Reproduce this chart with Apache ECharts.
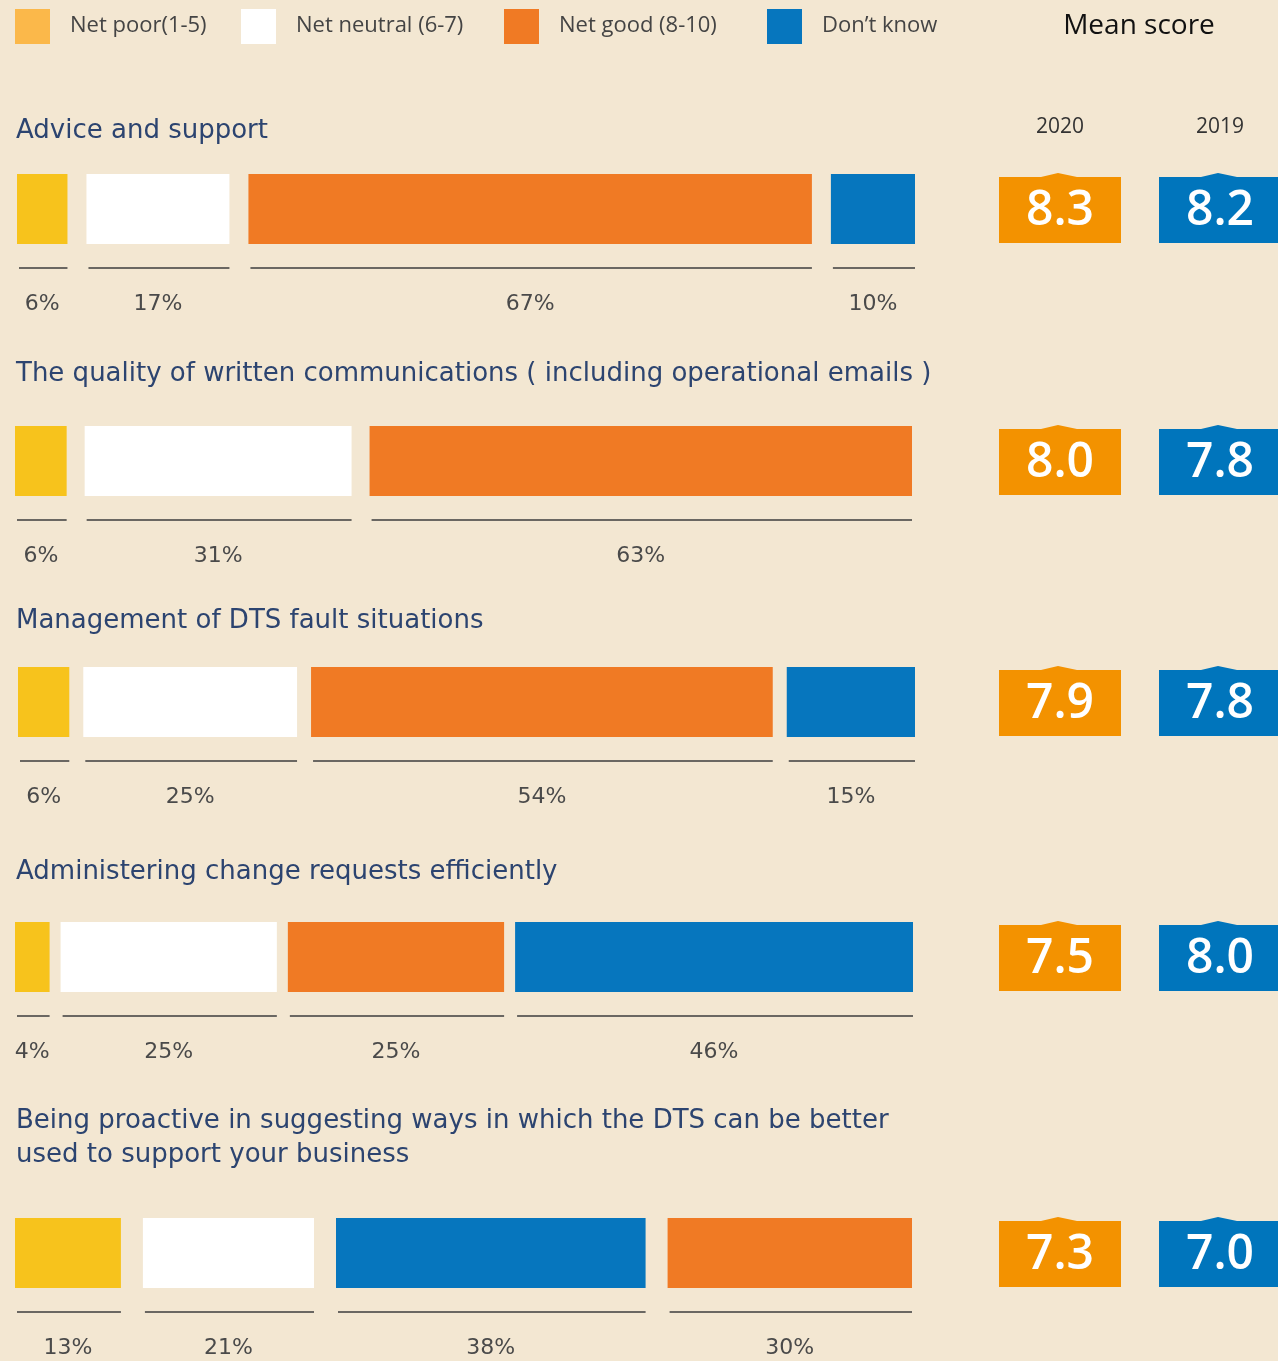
<!DOCTYPE html>
<html>
<head>
<meta charset="utf-8">
<script src="https://cdn.jsdelivr.net/npm/echarts@6/dist/echarts.min.js"></script>
<style>
  html, body { margin: 0; padding: 0; background: #F3E7D2; }
  #chart { width: 1278px; height: 1361px; }
</style>
</head>
<body>
<div id="chart"></div>
<script>
// ---- data ----
const categories = ['Net poor(1-5)', 'Net neutral (6-7)', 'Net good (8-10)', 'Don\u2019t know'];
const questions = [
  'Advice and support',
  'The quality of written communications ( including operational emails )',
  'Management of DTS fault situations',
  'Administering change requests efficiently',
  'Being proactive in suggesting ways in which the DTS can be better\nused to support your business'
];
// order of the segments in each row (index into categories)
const segOrder = [[0, 1, 2, 3], [0, 1, 2], [0, 1, 2, 3], [0, 1, 2, 3], [0, 1, 3, 2]];
const segValues = [[6, 17, 67, 10], [6, 31, 63], [6, 25, 54, 15], [4, 25, 25, 46], [13, 21, 38, 30]];
const years = ['2020', '2019'];
const mean2020 = [8.3, 8.0, 7.9, 7.5, 7.3];
const mean2019 = [8.2, 7.8, 7.8, 8.0, 7.0];

// ---- layout / style ----
const barColors = ['#F7C31C', '#FFFFFF', '#F07A24', '#0676BE'];
const legendColors = ['#FBB84A', '#FFFFFF', '#F07A24', '#0676BE'];
const boxColors = ['#F39200', '#0075BC'];
const font = '"Open Sans", sans-serif';
const wideFont = '"DejaVu Sans", sans-serif';
const rowTop = [174, 426, 667, 922, 1218];
const rowLeft = [17, 15, 18, 15, 15];
const rowRight = [915, 912, 915, 913, 912];
const rowGap = [19, 18, 14, 11, 22];
const titleY = [131, 374, 621, 872, 1138];
const barH = 70;

const chart = echarts.init(document.getElementById('chart'));

let grids = [], xAxes = [], yAxes = [], series = [], graphics = [];

segValues.forEach((vals, i) => {
  const total = vals.reduce((a, b) => a + b, 0);
  const gap = rowGap[i];
  grids.push({
    left: rowLeft[i], top: rowTop[i], height: barH,
    width: rowRight[i] - rowLeft[i] - (vals.length - 1) * gap
  });
  xAxes.push({ type: 'value', gridIndex: i, min: 0, max: total, show: false });
  yAxes.push({ type: 'value', gridIndex: i, min: 0, max: 1, show: false });
  let cum = 0;
  const data = vals.map((v, k) => {
    const d = [cum, v, segOrder[i][k], k];
    cum += v;
    return d;
  });
  series.push({
    type: 'custom',
    xAxisIndex: i, yAxisIndex: i,
    clip: false,
    silent: true,
    data: data,
    renderItem: function (params, api) {
      const s = api.value(0), v = api.value(1), cat = api.value(2), k = api.value(3);
      const p0 = api.coord([s, 1]);
      const p1 = api.coord([s + v, 0]);
      const x0 = p0[0] + k * gap, x1 = p1[0] + k * gap;
      const y0 = p0[1], y1 = p1[1];
      return {
        type: 'group',
        children: [
          { type: 'rect', shape: { x: x0, y: y0, width: x1 - x0, height: y1 - y0 },
            style: { fill: barColors[cat] } },
          { type: 'line', shape: { x1: x0 + 2, y1: y1 + 24, x2: x1, y2: y1 + 24 },
            style: { stroke: '#3d3d3d', lineWidth: 1.6 } },
          { type: 'text', style: { x: (x0 + x1) / 2, y: y1 + 60, text: v + '%',
            fill: '#4a4a4a', fontSize: 22, fontFamily: wideFont, align: 'center', verticalAlign: 'middle' } }
        ]
      };
    }
  });

  // question title
  graphics.push({
    type: 'text', silent: true, x: 16, y: titleY[i],
    style: { text: questions[i], fill: '#2C4470', fontSize: 26, fontFamily: wideFont,
      lineHeight: 34, verticalAlign: 'middle' }
  });

  // mean score boxes
  [mean2020[i], mean2019[i]].forEach((m, j) => {
    const cx = j === 0 ? 1060 : 1220;
    const top = rowTop[i] + 3, bot = rowTop[i] + 69;
    const l = cx - 61, r = cx + 61;
    graphics.push({
      type: 'polygon', silent: true,
      shape: { points: [[l, top], [cx - 19, top], [cx - 2, top - 4], [cx + 17, top], [r, top], [r, bot], [l, bot]] },
      style: { fill: boxColors[j] }
    });
    graphics.push({
      type: 'text', silent: true, x: cx, y: (top + bot) / 2 + 1,
      style: { text: m.toFixed(1), fill: '#fff', fontSize: 48, fontWeight: 600, fontFamily: font,
        align: 'center', verticalAlign: 'middle' }
    });
  });
});

// legend
const legendX = [15, 241, 504, 767];
categories.forEach((c, k) => {
  graphics.push({ type: 'rect', silent: true, shape: { x: legendX[k], y: 9, width: 35, height: 35 },
    style: { fill: legendColors[k] } });
  graphics.push({ type: 'text', silent: true, x: legendX[k] + 55, y: 26,
    style: { text: c, fill: '#444', fontSize: 22, fontFamily: font, verticalAlign: 'middle' } });
});
graphics.push({ type: 'text', silent: true, x: 1139, y: 26,
  style: { text: 'Mean score', fill: '#111', fontSize: 28, fontWeight: 500, fontFamily: font,
    align: 'center', verticalAlign: 'middle' } });
years.forEach((y, j) => {
  graphics.push({ type: 'text', silent: true, x: j === 0 ? 1060 : 1220, y: 127,
    style: { text: y, fill: '#333', fontSize: 21, fontFamily: font, align: 'center', verticalAlign: 'middle' } });
});

chart.setOption({
  backgroundColor: '#F3E7D2',
  animation: false,
  grid: grids,
  xAxis: xAxes,
  yAxis: yAxes,
  series: series,
  graphic: { elements: graphics }
});
</script>
</body>
</html>
